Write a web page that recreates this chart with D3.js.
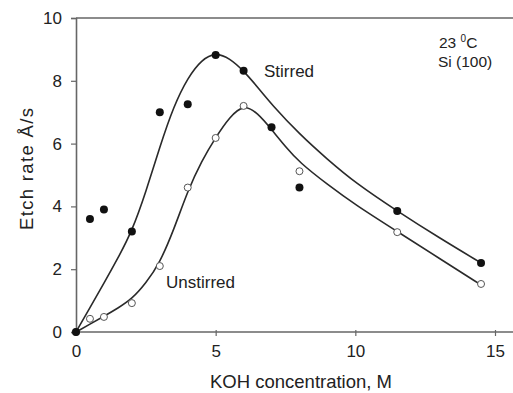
<!DOCTYPE html>
<html><head><meta charset="utf-8">
<script src="https://cdn.jsdelivr.net/npm/d3@7"></script>
<style>
html,body{margin:0;padding:0;background:#fff;}
svg{display:block;font-family:"Liberation Sans",Arial,sans-serif;}
</style></head>
<body>
<svg id="chart" width="513" height="393"></svg>
<script>
// Measured points
const stirredX = [0, 0.5, 1, 2, 3, 4, 5, 6, 7, 8, 11.5, 14.5];
const stirredY = [0, 3.6, 3.9, 3.2, 7.0, 7.25, 8.82, 8.32, 6.52, 4.6, 3.85, 2.2];
const unstirredX = [0, 0.5, 1, 2, 3, 4, 5, 6, 8, 11.5, 14.5];
const unstirredY = [0, 0.42, 0.48, 0.92, 2.1, 4.6, 6.18, 7.2, 5.12, 3.18, 1.53];
// Fitted curves
const stirredFitX = [0, 0.5, 1, 1.5, 2, 2.5, 3, 3.5, 4, 4.5, 5, 5.5, 6, 6.5, 7, 8, 9, 10, 11.5, 13, 14.5];
const stirredFitY = [0, 0.78, 1.55, 2.35, 3.2, 4.45, 5.9, 7.2, 8.1, 8.68, 8.9, 8.72, 8.32, 7.8, 7.25, 6.3, 5.5, 4.75, 3.85, 3.0, 2.2];
const unstirredFitX = [0, 0.5, 1, 1.5, 2, 2.5, 3, 3.5, 4, 4.5, 5, 5.5, 6, 6.5, 7, 7.5, 8, 9, 10, 11.5, 13, 14.5];
const unstirredFitY = [0, 0.25, 0.5, 0.76, 1.05, 1.55, 2.2, 3.25, 4.5, 5.45, 6.2, 6.85, 7.25, 6.98, 6.45, 5.9, 5.4, 4.7, 4.05, 3.2, 2.35, 1.5];
const xTicks = [0, 5, 10, 15];
const yTicks = [0, 2, 4, 6, 8, 10];

const svg = d3.select("#chart");
const x = d3.scaleLinear().domain([0, 15]).range([76, 495]);
const y = d3.scaleLinear().domain([0, 10]).range([332, 18]);
const xEnd = 513;
const axisCol = "#666";
const txtCol = "#222";
const ff = "'Liberation Sans',Arial,sans-serif";

// top frame line
svg.append("line").attr("x1", x(0)).attr("x2", xEnd).attr("y1", y(10)).attr("y2", y(10))
  .attr("stroke", axisCol).attr("stroke-width", 1.6);

// y axis
const yAxis = svg.append("g").attr("transform", `translate(${x(0)},0)`)
  .call(d3.axisLeft(y).tickValues(yTicks).tickSize(5).tickPadding(9));
yAxis.select(".domain").attr("stroke", axisCol).attr("stroke-width", 1.6);
yAxis.selectAll(".tick line").attr("stroke", axisCol).attr("stroke-width", 1.2);
yAxis.selectAll(".tick text").attr("fill", txtCol).attr("font-size", 17).attr("font-family", ff);

// x axis
const xAxis = svg.append("g").attr("transform", `translate(0,${y(0)})`)
  .call(d3.axisBottom(x).tickValues(xTicks).tickSizeInner(4).tickSizeOuter(0).tickPadding(9));
xAxis.select(".domain").attr("d", `M${x(0)},0H${xEnd}`).attr("stroke", axisCol).attr("stroke-width", 1.6);
xAxis.selectAll(".tick line").attr("stroke", axisCol).attr("stroke-width", 1.2).attr("y1", -2);
xAxis.selectAll(".tick text").attr("fill", txtCol).attr("font-size", 17).attr("font-family", ff);

// curves
const line = d3.line().x(d => x(d[0])).y(d => y(d[1])).curve(d3.curveBasis);
const sFit = stirredFitX.map((v, i) => [v, stirredFitY[i]]);
const uFit = unstirredFitX.map((v, i) => [v, unstirredFitY[i]]);
svg.append("path").attr("d", line(sFit)).attr("fill", "none").attr("stroke", "#2a2a2a").attr("stroke-width", 1.6);
svg.append("path").attr("d", line(uFit)).attr("fill", "none").attr("stroke", "#2a2a2a").attr("stroke-width", 1.6);

// points
const uPts = unstirredX.map((v, i) => [v, unstirredY[i]]);
const sPts = stirredX.map((v, i) => [v, stirredY[i]]);
svg.append("g").selectAll("circle").data(uPts).join("circle")
  .attr("cx", d => x(d[0])).attr("cy", d => y(d[1])).attr("r", 3.5)
  .attr("fill", "#fff").attr("stroke", "#555").attr("stroke-width", 1);
svg.append("g").selectAll("circle").data(sPts).join("circle")
  .attr("cx", d => x(d[0])).attr("cy", d => y(d[1])).attr("r", 4)
  .attr("fill", "#111");

// annotations
const t = (xx, yy, s, fs) => svg.append("text").attr("x", xx).attr("y", yy)
  .attr("fill", txtCol).attr("font-size", fs || 17).text(s);
t(264, 77, "Stirred");
t(166, 288, "Unstirred");
const deg = svg.append("text").attr("x", 439).attr("y", 48).attr("fill", txtCol).attr("font-size", 15.5);
deg.append("tspan").text("23 ");
deg.append("tspan").attr("font-size", 10).attr("dy", -6).text("0");
deg.append("tspan").attr("dy", 6).text("C");
t(438, 67, "Si (100)", 15.5);

// axis titles
svg.append("text").attr("transform", `translate(33,169) rotate(-90)`)
  .attr("text-anchor", "middle").attr("fill", txtCol).attr("font-size", 18.5)
  .attr("textLength", 122).attr("lengthAdjust", "spacing")
  .text("Etch rate Å/s");
svg.append("text").attr("x", 301).attr("y", 388).attr("text-anchor", "middle")
  .attr("fill", txtCol).attr("font-size", 18.5).text("KOH concentration, M");
</script>
</body></html>
